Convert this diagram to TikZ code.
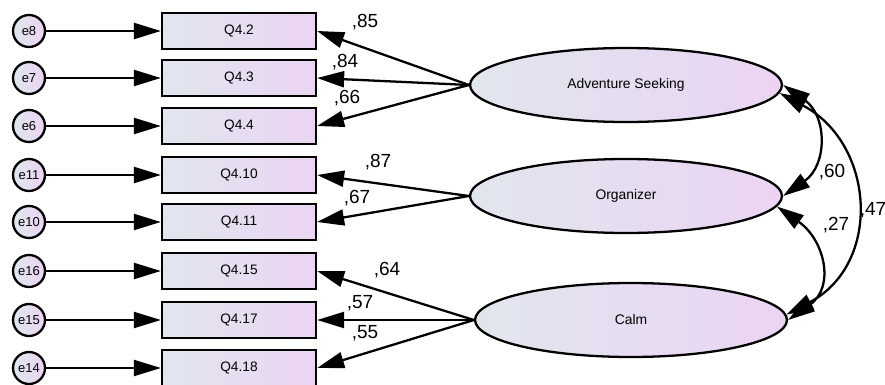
\documentclass[tikz,border=0pt]{standalone}
\usepackage{fontspec}
\setmainfont{Liberation Sans}
\usetikzlibrary{arrows.meta,positioning,shapes.geometric}
\definecolor{shadeleft}{HTML}{E1E6EE}
\definecolor{shaderight}{HTML}{EBD4F3}
\tikzset{
  errnode/.style={circle,draw=black,line width=1.3pt,minimum size=0.64cm,inner sep=0pt,
                  left color=shadeleft,right color=shaderight,font=\fontsize{7.4}{8}\selectfont},
  itembox/.style={draw=black,line width=1.3pt,minimum width=3.08cm,minimum height=0.72cm,
                  inner sep=0pt,left color=shadeleft,right color=shaderight,
                  font=\fontsize{7.8}{9}\selectfont},
  factor/.style={ellipse,draw=black,line width=1.3pt,minimum width=6.24cm,minimum height=1.48cm,
                 inner sep=0pt,left color=shadeleft,right color=shaderight,
                 font=\fontsize{7.9}{9}\selectfont},
  coef/.style={font=\fontsize{10.8}{12}\selectfont,inner sep=0pt},
  flowarr/.style={-{Triangle[length=5.4mm,width=3.2mm]},line width=1.3pt},
  covarr/.style={{Triangle[length=5.4mm,width=3.2mm]}-{Triangle[length=5.4mm,width=3.2mm]},line width=1.3pt}
}
\begin{document}
\begin{tikzpicture}[x=0.02cm,y=0.02cm]
  \useasboundingbox (0,0) rectangle (885,-385);
  % indicators with their error terms
  \foreach \e/\q/\y in {8/2/31,7/3/78,6/4/126,11/10/175,10/11/222,16/15/271,15/17/320,14/18/368}{
    \node[errnode] (e\e) at (29,-\y) {e\e};
    \node[itembox] (q\q) at (239,-\y) {Q4.\q};
    \draw[flowarr] (e\e) -- (q\q);
  }
  % latent factors
  \node[factor] (adv) at (626,-85) {Adventure Seeking};
  \node[factor] (org) at (626,-196) {Organizer};
  \node[factor] (calm) at (631,-320) {Calm};
  % loadings
  \draw[flowarr] (adv.west) -- (q2.east);
  \draw[flowarr] (adv.west) -- (q3.east);
  \draw[flowarr] (adv.west) -- (q4.east);
  \draw[flowarr] (org.west) -- (q10.east);
  \draw[flowarr] (org.west) -- (q11.east);
  \draw[flowarr] (calm.west) -- (q15.east);
  \draw[flowarr] (calm.west) -- (q17.east);
  \draw[flowarr] (calm.west) -- (q18.east);
  \node[coef] (l85) at (365,-22) {,85};
  \node[coef] (l84) at (345,-62) {,84};
  \node[coef] (l66) at (347,-98) {,66};
  \node[coef] (l87) at (378,-162) {,87};
  \node[coef] (l67) at (357,-198) {,67};
  \node[coef] (l64) at (387,-270) {,64};
  \node[coef] (l57) at (360,-303) {,57};
  \node[coef] (l55) at (365,-333) {,55};
  % covariances
  \draw[covarr] (adv.east) to[out=-35,in=35,looseness=1.25] (org.east);
  \draw[covarr] (org.-4) to[out=-35,in=35,looseness=1.3] (calm.east);
  \draw[covarr] (adv.-3) to[out=-28,in=28,looseness=1.25] (calm.2);
  \node[coef] (c60) at (832,-172) {,60};
  \node[coef] (c27) at (836,-225) {,27};
  \node[coef] (c47) at (873,-210) {,47};
\end{tikzpicture}
\end{document}
